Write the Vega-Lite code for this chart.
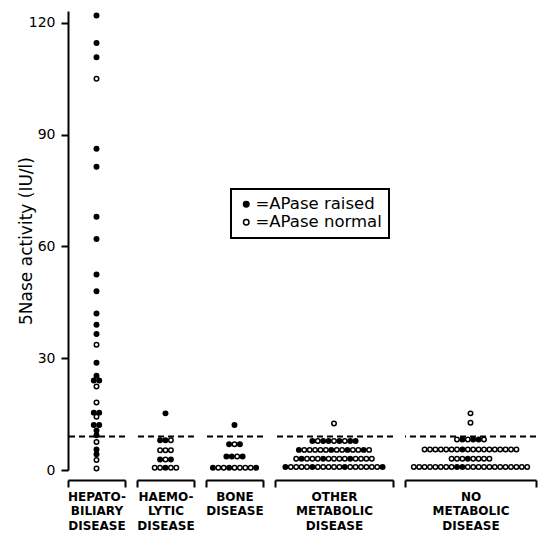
{
  "$schema": "https://vega.github.io/schema/vega-lite/v6.json",
  "background": "white",
  "padding": {"left": 17, "top": 10, "right": 5, "bottom": 5},
  "bounds": "flush",
  "spacing": 12,
  "config": {
    "font": "DejaVu Sans",
    "view": {"stroke": null},
    "axis": {"grid": false, "domainColor": "black", "tickColor": "black", "labelColor": "black", "titleColor": "black", "domainWidth": 2, "tickWidth": 2},
    "legend": {"orient": "none", "legendX": 163, "legendY": 178, "title": null, "labelFontSize": 16.5, "labelColor": "black", "labelOffset": 1, "symbolSize": 30, "symbolStrokeColor": "black", "symbolStrokeWidth": 1.5, "symbolType": "circle", "strokeColor": "black", "strokeWidth": 2, "padding": 7, "rowPadding": 1}
  },
  "data": {"values": [
    {"group":"HB","nase":122,"apase":"raised"},
    {"group":"HB","nase":114.6,"apase":"raised"},
    {"group":"HB","nase":110.8,"apase":"raised"},
    {"group":"HB","nase":105,"apase":"normal"},
    {"group":"HB","nase":86.2,"apase":"raised"},
    {"group":"HB","nase":81.4,"apase":"raised"},
    {"group":"HB","nase":68,"apase":"raised"},
    {"group":"HB","nase":62,"apase":"raised"},
    {"group":"HB","nase":52.5,"apase":"raised"},
    {"group":"HB","nase":48,"apase":"raised"},
    {"group":"HB","nase":42,"apase":"raised"},
    {"group":"HB","nase":39,"apase":"raised"},
    {"group":"HB","nase":36.5,"apase":"raised"},
    {"group":"HB","nase":33.6,"apase":"normal"},
    {"group":"HB","nase":28.8,"apase":"raised"},
    {"group":"HB","nase":24,"apase":"raised"},
    {"group":"HB","nase":24,"apase":"raised"},
    {"group":"HB","nase":25.3,"apase":"raised"},
    {"group":"HB","nase":22.4,"apase":"normal"},
    {"group":"HB","nase":18.1,"apase":"normal"},
    {"group":"HB","nase":15.4,"apase":"raised"},
    {"group":"HB","nase":15.4,"apase":"raised"},
    {"group":"HB","nase":14.3,"apase":"normal"},
    {"group":"HB","nase":12.1,"apase":"raised"},
    {"group":"HB","nase":12.1,"apase":"raised"},
    {"group":"HB","nase":10.6,"apase":"raised"},
    {"group":"HB","nase":9.3,"apase":"raised"},
    {"group":"HB","nase":7.5,"apase":"normal"},
    {"group":"HB","nase":5.5,"apase":"raised"},
    {"group":"HB","nase":4.2,"apase":"raised"},
    {"group":"HB","nase":2.7,"apase":"normal"},
    {"group":"HB","nase":0.4,"apase":"normal"},

    {"group":"HL","nase":15.2,"apase":"raised"},
    {"group":"HL","nase":8,"apase":"raised"},
    {"group":"HL","nase":8,"apase":"raised"},
    {"group":"HL","nase":8,"apase":"normal"},
    {"group":"HL","nase":5.3,"apase":"normal"},
    {"group":"HL","nase":5.3,"apase":"normal"},
    {"group":"HL","nase":5.3,"apase":"normal"},
    {"group":"HL","nase":2.8,"apase":"raised"},
    {"group":"HL","nase":2.8,"apase":"normal"},
    {"group":"HL","nase":2.8,"apase":"raised"},
    {"group":"HL","nase":0.6,"apase":"normal"},
    {"group":"HL","nase":0.6,"apase":"normal"},
    {"group":"HL","nase":0.6,"apase":"raised"},
    {"group":"HL","nase":0.6,"apase":"normal"},
    {"group":"HL","nase":0.6,"apase":"normal"},

    {"group":"BO","nase":12.1,"apase":"raised"},
    {"group":"BO","nase":6.9,"apase":"raised"},
    {"group":"BO","nase":6.9,"apase":"normal"},
    {"group":"BO","nase":6.9,"apase":"raised"},
    {"group":"BO","nase":3.6,"apase":"raised"},
    {"group":"BO","nase":3.6,"apase":"raised"},
    {"group":"BO","nase":3.6,"apase":"normal"},
    {"group":"BO","nase":3.6,"apase":"raised"},
    {"group":"BO","nase":0.6,"apase":"raised"},
    {"group":"BO","nase":0.6,"apase":"normal"},
    {"group":"BO","nase":0.6,"apase":"normal"},
    {"group":"BO","nase":0.6,"apase":"raised"},
    {"group":"BO","nase":0.6,"apase":"normal"},
    {"group":"BO","nase":0.6,"apase":"normal"},
    {"group":"BO","nase":0.6,"apase":"normal"},
    {"group":"BO","nase":0.6,"apase":"normal"},
    {"group":"BO","nase":0.6,"apase":"raised"},

    {"group":"OM","nase":12.5,"apase":"normal"},
    {"group":"OM","nase":7.8,"apase":"raised"},
    {"group":"OM","nase":7.8,"apase":"normal"},
    {"group":"OM","nase":7.8,"apase":"raised"},
    {"group":"OM","nase":7.8,"apase":"raised"},
    {"group":"OM","nase":7.8,"apase":"normal"},
    {"group":"OM","nase":7.8,"apase":"raised"},
    {"group":"OM","nase":7.8,"apase":"normal"},
    {"group":"OM","nase":7.8,"apase":"raised"},
    {"group":"OM","nase":7.8,"apase":"raised"},
    {"group":"OM","nase":5.4,"apase":"raised"},
    {"group":"OM","nase":5.4,"apase":"normal"},
    {"group":"OM","nase":5.4,"apase":"normal"},
    {"group":"OM","nase":5.4,"apase":"normal"},
    {"group":"OM","nase":5.4,"apase":"normal"},
    {"group":"OM","nase":5.4,"apase":"normal"},
    {"group":"OM","nase":5.4,"apase":"raised"},
    {"group":"OM","nase":5.4,"apase":"normal"},
    {"group":"OM","nase":5.4,"apase":"normal"},
    {"group":"OM","nase":5.4,"apase":"raised"},
    {"group":"OM","nase":5.4,"apase":"normal"},
    {"group":"OM","nase":5.4,"apase":"normal"},
    {"group":"OM","nase":5.4,"apase":"raised"},
    {"group":"OM","nase":5.4,"apase":"normal"},
    {"group":"OM","nase":3,"apase":"normal"},
    {"group":"OM","nase":3,"apase":"raised"},
    {"group":"OM","nase":3,"apase":"normal"},
    {"group":"OM","nase":3,"apase":"normal"},
    {"group":"OM","nase":3,"apase":"normal"},
    {"group":"OM","nase":3,"apase":"raised"},
    {"group":"OM","nase":3,"apase":"normal"},
    {"group":"OM","nase":3,"apase":"normal"},
    {"group":"OM","nase":3,"apase":"normal"},
    {"group":"OM","nase":3,"apase":"normal"},
    {"group":"OM","nase":3,"apase":"raised"},
    {"group":"OM","nase":3,"apase":"normal"},
    {"group":"OM","nase":3,"apase":"normal"},
    {"group":"OM","nase":3,"apase":"normal"},
    {"group":"OM","nase":3,"apase":"normal"},
    {"group":"OM","nase":0.8,"apase":"raised"},
    {"group":"OM","nase":0.8,"apase":"normal"},
    {"group":"OM","nase":0.8,"apase":"normal"},
    {"group":"OM","nase":0.8,"apase":"normal"},
    {"group":"OM","nase":0.8,"apase":"normal"},
    {"group":"OM","nase":0.8,"apase":"raised"},
    {"group":"OM","nase":0.8,"apase":"normal"},
    {"group":"OM","nase":0.8,"apase":"normal"},
    {"group":"OM","nase":0.8,"apase":"normal"},
    {"group":"OM","nase":0.8,"apase":"normal"},
    {"group":"OM","nase":0.8,"apase":"normal"},
    {"group":"OM","nase":0.8,"apase":"raised"},
    {"group":"OM","nase":0.8,"apase":"normal"},
    {"group":"OM","nase":0.8,"apase":"normal"},
    {"group":"OM","nase":0.8,"apase":"normal"},
    {"group":"OM","nase":0.8,"apase":"normal"},
    {"group":"OM","nase":0.8,"apase":"normal"},
    {"group":"OM","nase":0.8,"apase":"normal"},
    {"group":"OM","nase":0.8,"apase":"raised"},

    {"group":"NM","nase":15.2,"apase":"normal"},
    {"group":"NM","nase":12.7,"apase":"normal"},
    {"group":"NM","nase":8.2,"apase":"normal"},
    {"group":"NM","nase":8.2,"apase":"raised"},
    {"group":"NM","nase":8.2,"apase":"normal"},
    {"group":"NM","nase":8.2,"apase":"raised"},
    {"group":"NM","nase":8.2,"apase":"raised"},
    {"group":"NM","nase":8.2,"apase":"normal"},
    {"group":"NM","nase":5.5,"apase":"normal"},
    {"group":"NM","nase":5.5,"apase":"normal"},
    {"group":"NM","nase":5.5,"apase":"normal"},
    {"group":"NM","nase":5.5,"apase":"normal"},
    {"group":"NM","nase":5.5,"apase":"normal"},
    {"group":"NM","nase":5.5,"apase":"normal"},
    {"group":"NM","nase":5.5,"apase":"normal"},
    {"group":"NM","nase":5.5,"apase":"raised"},
    {"group":"NM","nase":5.5,"apase":"normal"},
    {"group":"NM","nase":5.5,"apase":"normal"},
    {"group":"NM","nase":5.5,"apase":"normal"},
    {"group":"NM","nase":5.5,"apase":"normal"},
    {"group":"NM","nase":5.5,"apase":"normal"},
    {"group":"NM","nase":5.5,"apase":"normal"},
    {"group":"NM","nase":5.5,"apase":"normal"},
    {"group":"NM","nase":5.5,"apase":"normal"},
    {"group":"NM","nase":5.5,"apase":"normal"},
    {"group":"NM","nase":5.5,"apase":"normal"},
    {"group":"NM","nase":3,"apase":"normal"},
    {"group":"NM","nase":3,"apase":"normal"},
    {"group":"NM","nase":3,"apase":"normal"},
    {"group":"NM","nase":3,"apase":"raised"},
    {"group":"NM","nase":3,"apase":"normal"},
    {"group":"NM","nase":3,"apase":"normal"},
    {"group":"NM","nase":3,"apase":"normal"},
    {"group":"NM","nase":3,"apase":"normal"},
    {"group":"NM","nase":0.8,"apase":"normal"},
    {"group":"NM","nase":0.8,"apase":"normal"},
    {"group":"NM","nase":0.8,"apase":"normal"},
    {"group":"NM","nase":0.8,"apase":"normal"},
    {"group":"NM","nase":0.8,"apase":"normal"},
    {"group":"NM","nase":0.8,"apase":"normal"},
    {"group":"NM","nase":0.8,"apase":"normal"},
    {"group":"NM","nase":0.8,"apase":"normal"},
    {"group":"NM","nase":0.8,"apase":"raised"},
    {"group":"NM","nase":0.8,"apase":"raised"},
    {"group":"NM","nase":0.8,"apase":"normal"},
    {"group":"NM","nase":0.8,"apase":"normal"},
    {"group":"NM","nase":0.8,"apase":"normal"},
    {"group":"NM","nase":0.8,"apase":"normal"},
    {"group":"NM","nase":0.8,"apase":"normal"},
    {"group":"NM","nase":0.8,"apase":"normal"},
    {"group":"NM","nase":0.8,"apase":"normal"},
    {"group":"NM","nase":0.8,"apase":"normal"},
    {"group":"NM","nase":0.8,"apase":"normal"},
    {"group":"NM","nase":0.8,"apase":"normal"},
    {"group":"NM","nase":0.8,"apase":"normal"},
    {"group":"NM","nase":0.8,"apase":"normal"}
  ]},
  "hconcat": [
    {
      "width": 57, "height": 459,
      "layer": [
        {
          "data": {"values": [{"upper_normal": 9}]},
          "mark": {"type": "rule", "strokeDash": [6, 4], "strokeWidth": 2, "color": "black"},
          "encoding": {"y": {"field": "upper_normal", "type": "quantitative", "scale": {"domain": [0, 123.2], "nice": false}}}
        },
        {
          "transform": [
            {"filter": "datum.group == 'HB'"},
            {"window": [{"op": "count", "as": "one"}], "frame": [0, 0], "ignorePeers": true},
            {"window": [{"op": "row_number", "as": "k"}]}
          ],
          "mark": {"type": "point", "shape": "circle", "filled": true, "size": 20, "stroke": "black", "strokeWidth": 1.5, "opacity": 1},
          "encoding": {
            "x": {"field": "one", "type": "quantitative", "stack": "center", "bandPosition": 0.5,
                  "scale": {"domain": [-4.278, 6.278], "nice": false, "zero": false},
                  "axis": {"values": [-4.278, 6.278], "labels": false, "tickSize": 7, "offset": 10, "title": ["HEPATO-", "BILIARY", "DISEASE"], "titleFontSize": 12, "titleFontWeight": "bold", "titleLineHeight": 14.5, "titlePadding": 3}},
            "y": {"field": "nase", "type": "quantitative", "scale": {"domain": [0, 123.2], "nice": false},
                  "axis": {"values": [0, 30, 60, 90, 120], "title": "5Nase activity (IU/l)", "titleFontSize": 17, "titleFontWeight": "normal", "titlePadding": -7, "labelFontSize": 14, "labelPadding": 6, "tickSize": 7}},
            "fill": {"field": "apase", "type": "nominal", "scale": {"domain": ["raised", "normal"], "range": ["black", "white"]},
                     "legend": {"labelExpr": "'=APase ' + datum.label"}},
            "order": {"field": "k"}
          }
        }
      ]
    },
    {
      "width": 57, "height": 459,
      "layer": [
        {
          "data": {"values": [{"upper_normal": 9}]},
          "mark": {"type": "rule", "strokeDash": [6, 4], "strokeWidth": 2, "color": "black"},
          "encoding": {"y": {"field": "upper_normal", "type": "quantitative", "scale": {"domain": [0, 123.2], "nice": false}, "axis": null}}
        },
        {
          "transform": [
            {"filter": "datum.group == 'HL'"},
            {"window": [{"op": "count", "as": "one"}], "frame": [0, 0], "ignorePeers": true},
            {"window": [{"op": "row_number", "as": "k"}]}
          ],
          "mark": {"type": "point", "shape": "circle", "filled": true, "size": 20, "stroke": "black", "strokeWidth": 1.5, "opacity": 1},
          "encoding": {
            "x": {"field": "one", "type": "quantitative", "stack": "center", "bandPosition": 0.5,
                  "scale": {"domain": [-2.778, 7.778], "nice": false, "zero": false},
                  "axis": {"values": [-2.778, 7.778], "labels": false, "tickSize": 7, "offset": 10, "title": ["HAEMO-", "LYTIC", "DISEASE"], "titleFontSize": 12, "titleFontWeight": "bold", "titleLineHeight": 14.5, "titlePadding": 3}},
            "y": {"field": "nase", "type": "quantitative", "scale": {"domain": [0, 123.2], "nice": false}, "axis": null},
            "fill": {"field": "apase", "type": "nominal", "scale": {"domain": ["raised", "normal"], "range": ["black", "white"]},
                     "legend": {"labelExpr": "'=APase ' + datum.label"}},
            "order": {"field": "k"}
          }
        }
      ]
    },
    {
      "width": 57, "height": 459,
      "layer": [
        {
          "data": {"values": [{"upper_normal": 9}]},
          "mark": {"type": "rule", "strokeDash": [6, 4], "strokeWidth": 2, "color": "black"},
          "encoding": {"y": {"field": "upper_normal", "type": "quantitative", "scale": {"domain": [0, 123.2], "nice": false}, "axis": null}}
        },
        {
          "transform": [
            {"filter": "datum.group == 'BO'"},
            {"window": [{"op": "count", "as": "one"}], "frame": [0, 0], "ignorePeers": true},
            {"window": [{"op": "row_number", "as": "k"}]}
          ],
          "mark": {"type": "point", "shape": "circle", "filled": true, "size": 20, "stroke": "black", "strokeWidth": 1.5, "opacity": 1},
          "encoding": {
            "x": {"field": "one", "type": "quantitative", "stack": "center", "bandPosition": 0.5,
                  "scale": {"domain": [-0.778, 9.778], "nice": false, "zero": false},
                  "axis": {"values": [-0.778, 9.778], "labels": false, "tickSize": 7, "offset": 10, "title": ["BONE", "DISEASE"], "titleFontSize": 12, "titleFontWeight": "bold", "titleLineHeight": 14.5, "titlePadding": 3}},
            "y": {"field": "nase", "type": "quantitative", "scale": {"domain": [0, 123.2], "nice": false}, "axis": null},
            "fill": {"field": "apase", "type": "nominal", "scale": {"domain": ["raised", "normal"], "range": ["black", "white"]},
                     "legend": {"labelExpr": "'=APase ' + datum.label"}},
            "order": {"field": "k"}
          }
        }
      ]
    },
    {
      "width": 118, "height": 459,
      "layer": [
        {
          "data": {"values": [{"upper_normal": 9}]},
          "mark": {"type": "rule", "strokeDash": [6, 4], "strokeWidth": 2, "color": "black"},
          "encoding": {"y": {"field": "upper_normal", "type": "quantitative", "scale": {"domain": [0, 123.2], "nice": false}, "axis": null}}
        },
        {
          "transform": [
            {"filter": "datum.group == 'OM'"},
            {"window": [{"op": "count", "as": "one"}], "frame": [0, 0], "ignorePeers": true},
            {"window": [{"op": "row_number", "as": "k"}]}
          ],
          "mark": {"type": "point", "shape": "circle", "filled": true, "size": 20, "stroke": "black", "strokeWidth": 1.5, "opacity": 1},
          "encoding": {
            "x": {"field": "one", "type": "quantitative", "stack": "center", "bandPosition": 0.5,
                  "scale": {"domain": [-1.426, 20.426], "nice": false, "zero": false},
                  "axis": {"values": [-1.426, 20.426], "labels": false, "tickSize": 7, "offset": 10, "title": ["OTHER", "METABOLIC", "DISEASE"], "titleFontSize": 12, "titleFontWeight": "bold", "titleLineHeight": 14.5, "titlePadding": 3}},
            "y": {"field": "nase", "type": "quantitative", "scale": {"domain": [0, 123.2], "nice": false}, "axis": null},
            "fill": {"field": "apase", "type": "nominal", "scale": {"domain": ["raised", "normal"], "range": ["black", "white"]},
                     "legend": {"labelExpr": "'=APase ' + datum.label"}},
            "order": {"field": "k"}
          }
        }
      ]
    },
    {
      "width": 131, "height": 459,
      "layer": [
        {
          "data": {"values": [{"upper_normal": 9}]},
          "mark": {"type": "rule", "strokeDash": [6, 4], "strokeWidth": 2, "color": "black"},
          "encoding": {"y": {"field": "upper_normal", "type": "quantitative", "scale": {"domain": [0, 123.2], "nice": false}, "axis": null}}
        },
        {
          "transform": [
            {"filter": "datum.group == 'NM'"},
            {"window": [{"op": "count", "as": "one"}], "frame": [0, 0], "ignorePeers": true},
            {"window": [{"op": "row_number", "as": "k"}]}
          ],
          "mark": {"type": "point", "shape": "circle", "filled": true, "size": 20, "stroke": "black", "strokeWidth": 1.5, "opacity": 1},
          "encoding": {
            "x": {"field": "one", "type": "quantitative", "stack": "center", "bandPosition": 0.5,
                  "scale": {"domain": [-1.13, 23.13], "nice": false, "zero": false},
                  "axis": {"values": [-1.13, 23.13], "labels": false, "tickSize": 7, "offset": 10, "title": ["NO", "METABOLIC", "DISEASE"], "titleFontSize": 12, "titleFontWeight": "bold", "titleLineHeight": 14.5, "titlePadding": 3}},
            "y": {"field": "nase", "type": "quantitative", "scale": {"domain": [0, 123.2], "nice": false}, "axis": null},
            "fill": {"field": "apase", "type": "nominal", "scale": {"domain": ["raised", "normal"], "range": ["black", "white"]},
                     "legend": {"labelExpr": "'=APase ' + datum.label"}},
            "order": {"field": "k"}
          }
        }
      ]
    }
  ]
}
